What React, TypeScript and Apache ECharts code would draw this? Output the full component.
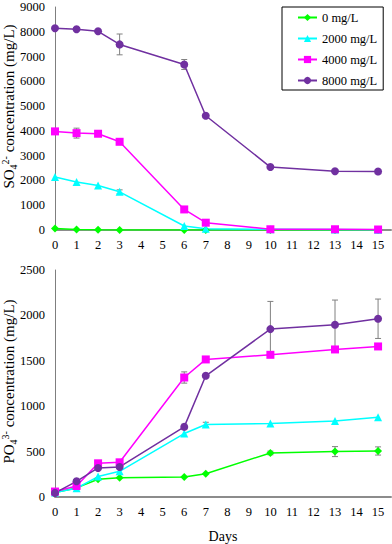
import React, { useEffect, useRef } from "react";
import * as echarts from "echarts";

const days = [0, 1, 2, 3, 6, 7, 10, 13, 15];
const seriesNames = ["0 mg/L", "2000 mg/L", "4000 mg/L", "8000 mg/L"];

const so4_0 = [60, 20, 10, 5, 5, 5, 5, 5, 5];
const so4_2000 = [2140, 1940, 1795, 1540, 160, 50, 30, 20, 10];
const so4_4000 = [3980, 3910, 3885, 3560, 830, 295, 30, 30, 20];
const so4_8000 = [8140, 8100, 8020, 7490, 6680, 4610, 2540, 2370, 2360];
const so4Err_0 = [0, 0, 0, 0, 0, 0, 0, 0, 0];
const so4Err_2000 = [0, 0, 0, 80, 0, 0, 0, 0, 0];
const so4Err_4000 = [0, 200, 0, 0, 100, 0, 0, 0, 0];
const so4Err_8000 = [0, 60, 0, 420, 200, 0, 0, 0, 0];

const po4_0 = [50, 100, 195, 213, 221, 257, 485, 500, 507];
const po4_2000 = [50, 96, 225, 283, 699, 798, 809, 838, 879];
const po4_4000 = [60, 121, 371, 382, 1316, 1515, 1566, 1625, 1658];
const po4_8000 = [45, 173, 320, 331, 772, 1335, 1849, 1897, 1963];
const po4Err_0 = [0, 0, 0, 0, 0, 0, 20, 55, 45];
const po4Err_2000 = [0, 0, 0, 0, 0, 25, 0, 0, 0];
const po4Err_4000 = [0, 0, 0, 0, 62, 0, 0, 0, 0];
const po4Err_8000 = [0, 0, 0, 0, 30, 0, 305, 272, 217];

const colors = ["#00ff00", "#00ffff", "#ff00ff", "#7030a0"];
const symbols = ["diamond", "triangle", "rect", "circle"];
const symbolSizes = [8, 8, 8, 8];

const FONT = "Liberation Serif";

export default function App() {
  const ref = useRef<HTMLDivElement>(null);
  useEffect(() => {
    if (!ref.current) return;
    const chart = echarts.init(ref.current, undefined, { renderer: "svg" });
    const so4 = [so4_0, so4_2000, so4_4000, so4_8000];
    const so4Err = [so4Err_0, so4Err_2000, so4Err_4000, so4Err_8000];
    const po4 = [po4_0, po4_2000, po4_4000, po4_8000];
    const po4Err = [po4Err_0, po4Err_2000, po4Err_4000, po4Err_8000];

    const errRender = (params: any, api: any) => {
      const x = api.value(0);
      const y = api.value(1);
      const e = api.value(2);
      if (!e) return null;
      const top = api.coord([x, y + e]);
      const bot = api.coord([x, Math.max(y - e, 0)]);
      const c = 3;
      const st = { stroke: "#808080", lineWidth: 1 };
      return {
        type: "group",
        children: [
          { type: "line", shape: { x1: top[0], y1: top[1], x2: bot[0], y2: bot[1] }, style: st },
          { type: "line", shape: { x1: top[0] - c, y1: top[1], x2: top[0] + c, y2: top[1] }, style: st },
          { type: "line", shape: { x1: bot[0] - c, y1: bot[1], x2: bot[0] + c, y2: bot[1] }, style: st },
        ],
      };
    };

    const series: any[] = [];
    [so4, po4].forEach((set, gi) => {
      const errs = gi === 0 ? so4Err : po4Err;
      set.forEach((vals, i) => {
        series.push({
          type: "custom",
          name: "err" + gi + i,
          xAxisIndex: gi,
          yAxisIndex: gi,
          z: 1,
          renderItem: errRender,
          encode: { x: 0, y: 1 },
          data: days.map((d, k) => [d, vals[k], errs[i][k]]),
        });
      });
      set.forEach((vals, i) => {
        series.push({
          type: "line",
          name: seriesNames[i],
          xAxisIndex: gi,
          yAxisIndex: gi,
          z: 2,
          symbol: symbols[i],
          symbolSize: symbolSizes[i],
          showAllSymbol: true,
          color: colors[i],
          lineStyle: { width: 1.5, color: colors[i] },
          itemStyle: { color: colors[i] },
          data: days.map((d, k) => [d, vals[k]]),
        });
      });
    });

    const xAxisBase = (gi: number) => ({
      type: "value",
      gridIndex: gi,
      min: 0,
      max: 15.6,
      interval: 1,
      splitLine: { show: false },
      axisTick: { show: false },
      axisLine: { lineStyle: { color: "#8c8c8c", width: 2 } },
      axisLabel: {
        color: "#000",
        fontFamily: FONT,
        fontSize: 12.5,
        margin: 8,
        showMaxLabel: false,
        formatter: (v: number) => (Number.isInteger(v) ? String(v) : ""),
      },
    });

    const nameRich = {
      a: { fontFamily: FONT, fontSize: 15, color: "#000", lineHeight: 18 },
      sub: { fontFamily: FONT, fontSize: 10, color: "#000", verticalAlign: "bottom", lineHeight: 18 },
      sup: { fontFamily: FONT, fontSize: 10, color: "#000", verticalAlign: "top", lineHeight: 18 },
    };

    const yAxisBase = (gi: number, max: number, interval: number, name: string, shift: number) => ({
      type: "value",
      gridIndex: gi,
      min: 0,
      max,
      interval,
      name,
      nameLocation: "middle",
      nameGap: 37,
      nameMoveOverlap: false,
      nameTextStyle: {
        rich: nameRich,
        fontFamily: FONT,
        fontSize: 15,
        color: "#000",
        padding: [0, 0, 0, shift],
      },
      splitLine: { show: false },
      axisTick: { show: false },
      axisLine: { show: true, lineStyle: { color: "#7f7f7f", width: 1 } },
      axisLabel: {
        color: "#000",
        fontFamily: FONT,
        fontSize: 12.5,
        margin: 10,
        formatter: (v: number) => String(v),
      },
    });

    chart.setOption({
      animation: false,
      backgroundColor: "#fff",
      textStyle: { fontFamily: FONT },
      legend: {
        data: seriesNames,
        orient: "vertical",
        left: 282,
        top: 7,
        padding: [4, 6, 3, 15],
        itemWidth: 19,
        itemHeight: 9,
        itemGap: 8,
        itemTextGap: 1,
        borderColor: "#000",
        borderWidth: 1,
        backgroundColor: "#fff",
        textStyle: { fontFamily: FONT, fontSize: 12.5, color: "#000" },
      },
      grid: [
        { left: 55, right: 1, top: 7, height: 223, outerBoundsMode: "none" },
        { left: 55, right: 1, top: 270, bottom: 47, outerBoundsMode: "none" },
      ],
      xAxis: [
        xAxisBase(0),
        {
          ...xAxisBase(1),
          name: "Days",
          nameLocation: "middle",
          nameGap: 32,
          nameMoveOverlap: false,
          nameTextStyle: { fontFamily: FONT, fontSize: 14, color: "#000" },
        },
      ],
      yAxis: [
        yAxisBase(0, 9000, 1000, "{a|SO}{sub|4}{sup|2-}{a| concentration (mg/L)}", 24),
        yAxisBase(1, 2500, 500, "{a|PO}{sub|4}{sup|3-}{a| concentration (mg/L)}", 4),
      ],
      series,
    });
    return () => chart.dispose();
  }, []);
  return (
    <div
      ref={ref}
      style={{ position: "absolute", left: 0, top: 0, width: 392, height: 544, background: "#fff" }}
    />
  );
}
